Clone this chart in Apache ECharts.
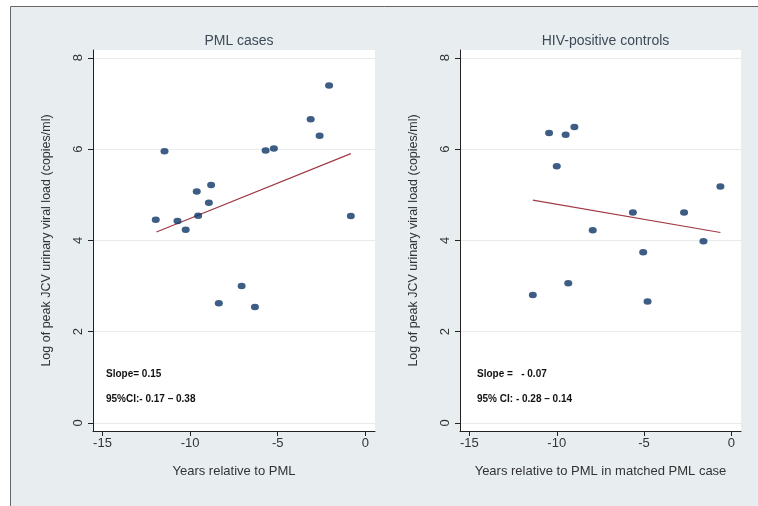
<!DOCTYPE html>
<html>
<head>
<meta charset="utf-8">
<script src="https://cdn.jsdelivr.net/npm/echarts@6/dist/echarts.min.js"></script>
<style>html,body{margin:0;padding:0;background:#fff;}#c{width:758px;height:506px;}</style>
</head>
<body>
<div id="c"></div>
<script>
// Panel titles
const panelTitles = ['PML cases', 'HIV-positive controls'];
const xAxisNames = ['Years relative to PML', 'Years relative to PML in matched PML case'];
const yAxisName = 'Log of peak JCV urinary viral load (copies/ml)';
const xTicks = [-15, -10, -5, 0];
const yTicks = [0, 2, 4, 6, 8];

// PML cases
const pmlX = [-2.07, -3.12, -2.61, -11.46, -5.69, -5.22, -8.80, -9.62, -8.93, -9.54, -11.96, -10.72, -10.25, -0.83, -7.06, -8.36, -6.30];
const pmlY = [7.39, 6.65, 6.29, 5.95, 5.97, 6.01, 5.21, 5.07, 4.82, 4.54, 4.45, 4.42, 4.23, 4.53, 3.00, 2.62, 2.54];
const pmlFitX = [-11.92, -0.83];
const pmlFitY = [4.18, 5.90];

// HIV-positive controls
const ctlX = [-10.44, -9.49, -8.99, -10.00, -0.63, -5.64, -2.71, -7.94, -1.60, -5.05, -9.34, -11.37, -4.80];
const ctlY = [6.35, 6.31, 6.48, 5.62, 5.18, 4.61, 4.61, 4.22, 3.98, 3.74, 3.06, 2.80, 2.66];
const ctlFitX = [-11.37, -0.63];
const ctlFitY = [4.88, 4.17];

const annotations = [
  ['Slope= 0.15', '95%CI:- 0.17 \u2013 0.38'],
  ['Slope =   - 0.07', '95% CI: - 0.28 \u2013 0.14']
];

const zip = (a, b) => a.map((v, i) => [v, b[i]]);

const chart = echarts.init(document.getElementById('c'), null, {renderer: 'canvas'});

const FONT = 'Liberation Sans, Arial, sans-serif';
const grids = [
  {left: 93, top: 50, width: 282, height: 381},
  {left: 460, top: 50, width: 281, height: 381}
];

function xAxis(i) {
  return {
    type: 'value', gridIndex: i, min: -15.54, max: 0.55,
    name: xAxisNames[i], nameLocation: 'middle', nameGap: 34,
    nameTextStyle: {color: '#333', fontSize: 13, fontFamily: FONT},
    axisLine: {show: true, onZero: false, lineStyle: {color: '#222', width: 1}},
    axisTick: {show: true, length: 5, customValues: xTicks, lineStyle: {color: '#222'}},
    axisLabel: {customValues: xTicks, color: '#333', fontSize: 13, fontFamily: FONT, margin: 6},
    splitLine: {show: false}
  };
}
function yAxis(i) {
  return {
    type: 'value', gridIndex: i, min: -0.18, max: 8.17,
    name: yAxisName, nameLocation: 'middle', nameGap: 40, nameRotate: 90,
    nameTextStyle: {color: '#333', fontSize: 12.5, fontFamily: FONT},
    axisLine: {show: true, onZero: false, lineStyle: {color: '#222', width: 1}},
    axisTick: {show: true, length: 5, customValues: yTicks, lineStyle: {color: '#222'}},
    axisLabel: {customValues: yTicks, rotate: 90, color: '#333', fontSize: 13, fontFamily: FONT, margin: 8},
    splitLine: {show: true, lineStyle: {color: '#e4eaed', width: 1}}
  };
}

function scatter(i, xs, ys) {
  return {
    type: 'scatter', xAxisIndex: i, yAxisIndex: i, data: zip(xs, ys),
    symbol: 'circle', symbolSize: [8, 6.5],
    itemStyle: {color: '#0c3566'}, silent: true, z: 3
  };
}
function fit(i, xs, ys) {
  return {
    type: 'line', xAxisIndex: i, yAxisIndex: i, data: zip(xs, ys),
    showSymbol: false, symbol: 'none',
    lineStyle: {color: '#a03a45', width: 1.2}, silent: true, z: 2
  };
}

const annoPos = [[106, 375], [477, 375]];
const graphics = [
  {type: 'rect', shape: {x: 10.5, y: 6.5, width: 800, height: 600}, style: {fill: '#e8eef0', stroke: '#666', lineWidth: 1}, z: -10, silent: true}
];
annotations.forEach((lines, i) => {
  lines.forEach((t, j) => {
    graphics.push({
      type: 'text', left: annoPos[i][0], top: annoPos[i][1] + j * 25 - 6,
      style: {text: t, fill: '#111', font: 'bold 10px ' + FONT}, z: 10, silent: true
    });
  });
});

chart.setOption({
  backgroundColor: 'transparent',
  animation: false,
  title: panelTitles.map((t, i) => ({
    text: t, left: grids[i].left + grids[i].width / 2, top: 29, textAlign: 'center',
    textStyle: {color: '#3e4a58', fontSize: 14, fontWeight: 'normal', fontFamily: FONT}
  })),
  grid: grids.map(g => Object.assign({show: true, backgroundColor: '#fff', borderWidth: 0}, g)),
  xAxis: [xAxis(0), xAxis(1)],
  yAxis: [yAxis(0), yAxis(1)],
  series: [
    fit(0, pmlFitX, pmlFitY), scatter(0, pmlX, pmlY),
    fit(1, ctlFitX, ctlFitY), scatter(1, ctlX, ctlY)
  ],
  graphic: graphics
});
</script>
</body>
</html>
